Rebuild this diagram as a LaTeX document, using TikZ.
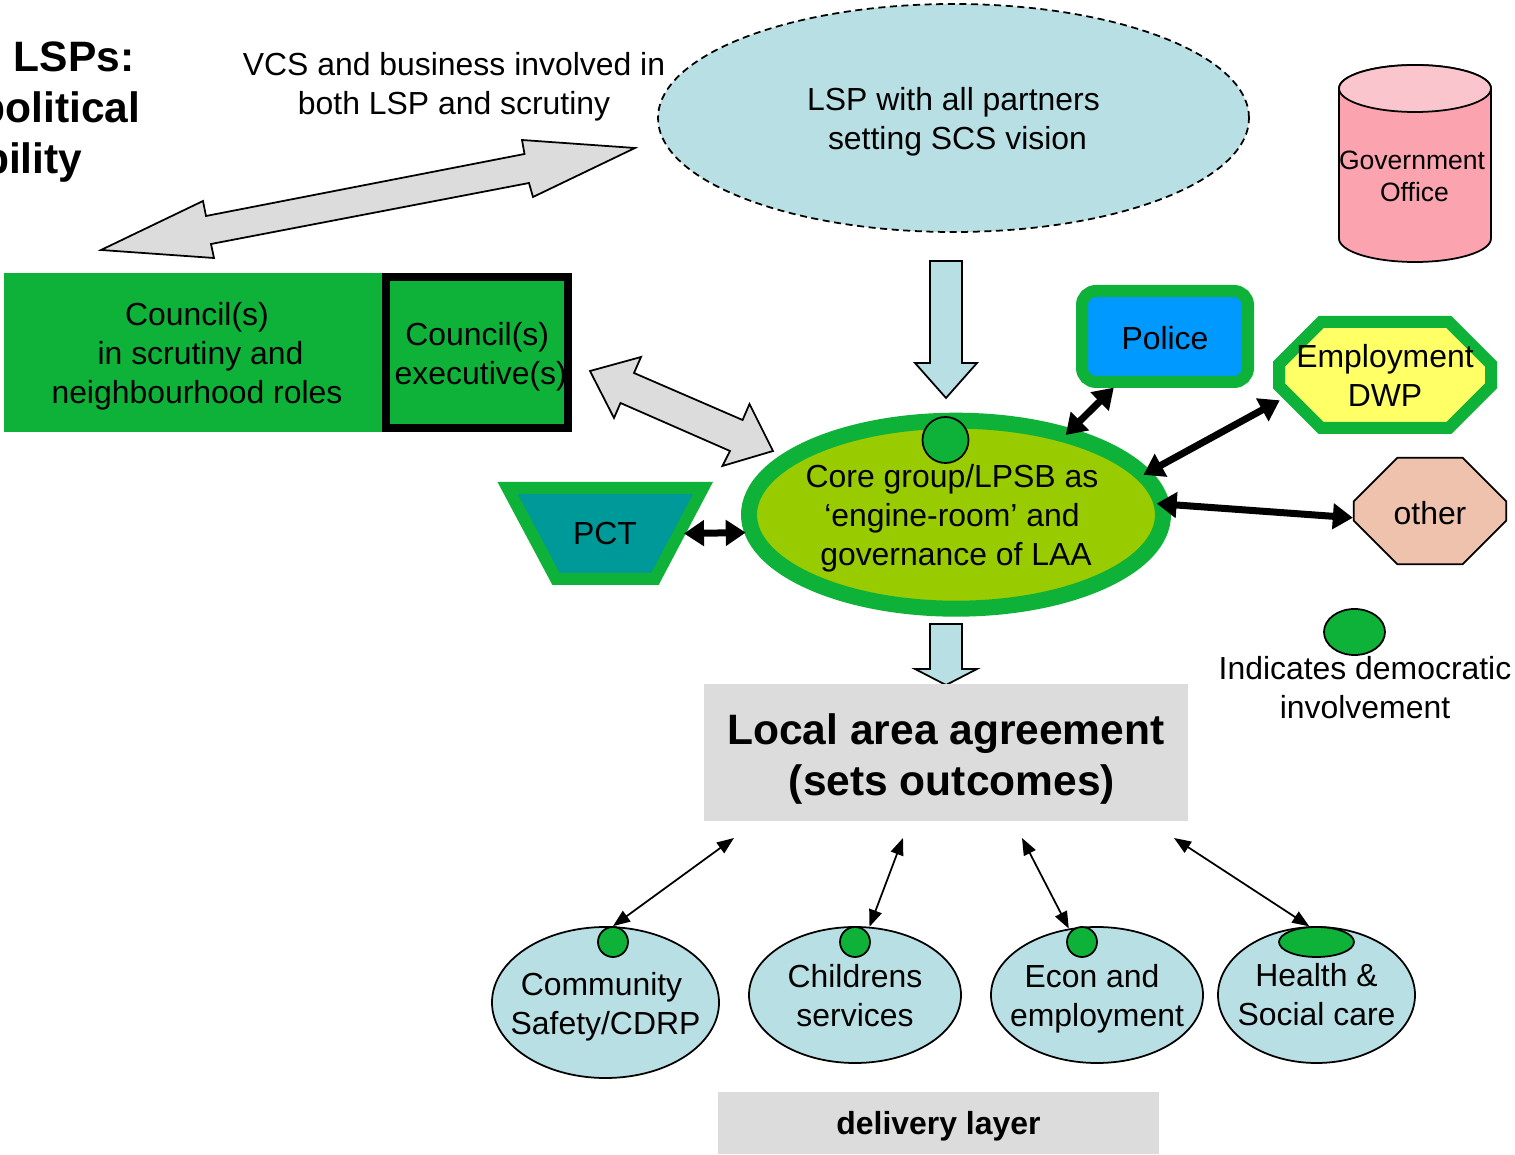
\documentclass[tikz,border=0pt]{standalone}
\usepackage{xcolor}
\usepackage{fontspec}
\setmainfont{Liberation Sans}
\usetikzlibrary{arrows.meta,shapes.geometric,shapes.misc}

\definecolor{leaf}{HTML}{0FB238}
\definecolor{pale}{HTML}{B8DFE3}
\definecolor{ash}{HTML}{DCDCDC}
\definecolor{olive}{HTML}{99CC00}
\definecolor{teal}{HTML}{009999}
\definecolor{sky}{HTML}{0099FF}
\definecolor{lemon}{HTML}{FFFF66}
\definecolor{peach}{HTML}{EFC2AD}
\definecolor{rosebody}{HTML}{FBA3AE}
\definecolor{rosetop}{HTML}{FBC5CE}

\newcommand{\nudge}[1]{\rule{0pt}{#1}}

\tikzset{
    plain/.style={font=\fontsize{9.08}{11.1}\selectfont, align=center, inner sep=0pt},
    big/.style={font=\fontsize{12.1}{14.5}\selectfont\bfseries, align=center, inner sep=0pt},
    ringed/.style={plain, draw=leaf, line width=0.12cm, outer sep=0pt},
    pool/.style={plain, ellipse, draw=black, fill=pale, line width=0.5pt, inner sep=-0.2cm},
    dot/.style={ellipse, draw=black, fill=leaf, line width=0.5pt, inner sep=0pt},
    block/.style={draw=black, line width=0.5pt, line join=miter},
    heavy/.style={{Triangle[length=0.2cm,width=0.25cm]}-{Triangle[length=0.2cm,width=0.25cm]}, line width=0.07cm},
    light/.style={{Triangle[length=0.17cm,width=0.13cm]}-{Triangle[length=0.17cm,width=0.13cm]}, line width=0.5pt}
}

\begin{document}
\begin{tikzpicture}
                \useasboundingbox (0,0) rectangle (15.15,11.54);

                %% title
                \node[big, anchor=east] (titleA) at (1.35,10.97) {LSPs:};
                \node[big, anchor=east] (titleB) at (1.41,10.42) {political};
                \node[big, anchor=east] (titleC) at (0.83,9.91) {bility};

                %% LSP
                \node[plain, ellipse, draw=black, fill=pale, dashed, dash pattern=on 2pt off 1.3pt, line width=0.5pt, minimum width=5.91cm, minimum height=2.28cm] (lsp) at (9.535,10.36) {\nudge{0.31cm}LSP with all partners\\\hspace*{0.08cm}setting SCS vision};
                \node[plain] (vcs) at (4.54,10.675) {VCS and business involved in\\both LSP and scrutiny};
                \draw[block, fill=ash] (6.35,10.06) -- (5.22,10.14) -- (5.245,10.00) -- (2.06,9.38) -- (2.03,9.53) -- (1.01,9.04) -- (2.14,8.96) -- (2.11,9.10) -- (5.29,9.71) -- (5.33,9.57) -- cycle;

                %Government Office
                \draw[line width=0.5pt, fill=rosebody] (13.39,10.655) -- (13.39,9.155) arc[start angle=180, end angle=360, x radius=0.76, y radius=0.235] -- (14.91,10.655) arc[start angle=0, end angle=180, x radius=0.76, y radius=0.235] -- cycle;
                \draw[line width=0.5pt, fill=rosetop] (14.15,10.655) ellipse [x radius=0.76, y radius=0.235];
                \node[font=\fontsize{7.55}{8.9}\selectfont, align=center, inner sep=0pt] (gov) at (14.12,9.775) {Government\\\hspace*{0.05cm}Office};

                %% Council
                \node[plain, fill=leaf, minimum width=3.86cm, minimum height=1.59cm] (scrutiny) at (1.97,8.015) {\nudge{0.31cm}Council(s)\\\hspace*{0.07cm}in scrutiny and\\neighbourhood roles};
                \node[plain, draw=black, fill=leaf, line width=0.08cm, minimum width=1.82cm, minimum height=1.51cm] (exec) at (4.7725,8.015) {\nudge{0.31cm}Council(s)\\\hspace*{0.07cm}executive(s)};
                \draw[block, fill=ash] (5.90,7.83) -- (6.41,7.97) -- (6.34,7.81) -- (7.426,7.34) -- (7.495,7.50) -- (7.73,7.03) -- (7.224,6.88) -- (7.30,7.03) -- (6.205,7.51) -- (6.14,7.36) -- cycle;

                %arrows down
                \draw[block, fill=pale] (9.30,8.93) -- (9.62,8.93) -- (9.62,7.91) -- (9.77,7.91) -- (9.46,7.56) -- (9.15,7.91) -- (9.30,7.91) -- cycle;
                \draw[block, fill=pale] (9.30,5.30) -- (9.62,5.30) -- (9.62,4.85) -- (9.77,4.85) -- (9.46,4.69) -- (9.15,4.85) -- (9.30,4.85) -- cycle;

                %% Core group
                \node[ellipse, draw=leaf, fill=olive, line width=0.16cm, outer sep=0pt, inner sep=0pt, minimum width=4.14cm, minimum height=1.88cm] (core) at (9.56,6.393) {};
                \node[dot, minimum width=0.46cm, minimum height=0.46cm] (coredot) at (9.455,7.14) {};
                \node[plain] (coretext) at (9.52,6.355) {Core group/LPSB as\\‘engine-room’ and\\\hspace*{0.08cm}governance of LAA};

                %PCT
                \draw[draw=leaf, fill=teal, line width=0.12cm, line join=miter] (5.075,6.66) -- (7.03,6.66) -- (6.55,5.75) -- (5.56,5.75) -- cycle;
                \node[plain] (pct) at (6.05,6.20) {PCT};
                \coordinate (pctedge) at (6.84,6.205);

                %Police
                \node[ringed, rectangle, rounded corners=0.14cm, fill=sky, minimum width=1.66cm, minimum height=0.91cm] (police) at (11.65,8.175) {\nudge{0.27cm}Police};

                %Employment
                \node[ringed, chamfered rectangle, chamfered rectangle xsep=0.325cm, chamfered rectangle ysep=0.31cm, inner sep=-0.2cm, fill=lemon, minimum width=2.12cm, minimum height=1.06cm] (dwp) at (13.85,7.79) {Employment\\DWP};

                %other
                \node[plain, chamfered rectangle, chamfered rectangle xsep=0.31cm, chamfered rectangle ysep=0.30cm, draw=black, fill=peach, line width=0.5pt, minimum width=1.525cm, minimum height=1.065cm] (other) at (14.30,6.43) {\nudge{0.27cm}other};

                \draw[heavy, shorten >=0.08cm] (core.36) -- (police.225);
                \draw[heavy, shorten >=0.1cm] (core.12.8) -- (dwp.192);
                \draw[heavy, shorten <=-0.05cm] (core.3.3) -- (other.185);
                \draw[heavy, shorten >=0.07cm] (pctedge) -- (core.185);

                %key
                \node[dot, minimum width=0.61cm, minimum height=0.46cm] (keydot) at (13.545,5.22) {};
                \node[plain] (keytext) at (13.65,4.66) {Indicates democratic\\involvement};

                %% Local area agreement
                \node[big, fill=ash, minimum width=4.84cm, minimum height=1.37cm] (laa) at (9.46,4.015) {\nudge{0.43cm}Local area agreement\\\hspace*{0.12cm}(sets outcomes)};

                \coordinate (laaA) at (7.34,3.16);
                \coordinate (laaB) at (9.03,3.16);
                \coordinate (laaC) at (10.22,3.16);
                \coordinate (laaD) at (11.74,3.16);

                %% delivery
                \node[pool, minimum width=2.27cm, minimum height=1.51cm] (community) at (6.055,1.515) {\nudge{0.31cm}Community\hspace*{0.08cm}\\Safety/CDRP};
                \node[pool, minimum width=2.12cm, minimum height=1.36cm] (children) at (8.55,1.59) {\nudge{0.25cm}Childrens\\services};
                \node[pool, minimum width=2.12cm, minimum height=1.36cm] (econ) at (10.97,1.59) {\nudge{0.31cm}Econ and\hspace*{0.1cm}\\employment};
                \node[pool, minimum width=1.97cm, minimum height=1.36cm] (health) at (13.165,1.59) {Health \&\\Social care};

                \node[dot, minimum width=0.30cm, minimum height=0.30cm] (communitydot) at (6.13,2.12) {};
                \node[dot, minimum width=0.30cm, minimum height=0.30cm] (childrendot) at (8.55,2.12) {};
                \node[dot, minimum width=0.30cm, minimum height=0.30cm] (econdot) at (10.82,2.12) {};
                \node[dot, minimum width=0.75cm, minimum height=0.30cm] (healthdot) at (13.165,2.12) {};

                \draw[light] (laaA) -- (communitydot.north);
                \draw[light] (laaB) -- (children.78);
                \draw[light] (laaC) -- (econ.113.5);
                \draw[light] (laaD) -- (health.96);

                \node[plain, font=\fontsize{9.08}{11.1}\selectfont\bfseries, fill=ash, minimum width=4.41cm, minimum height=0.62cm] (layer) at (9.385,0.31) {\nudge{0.29cm}delivery layer};

            \end{tikzpicture}
\end{document}
